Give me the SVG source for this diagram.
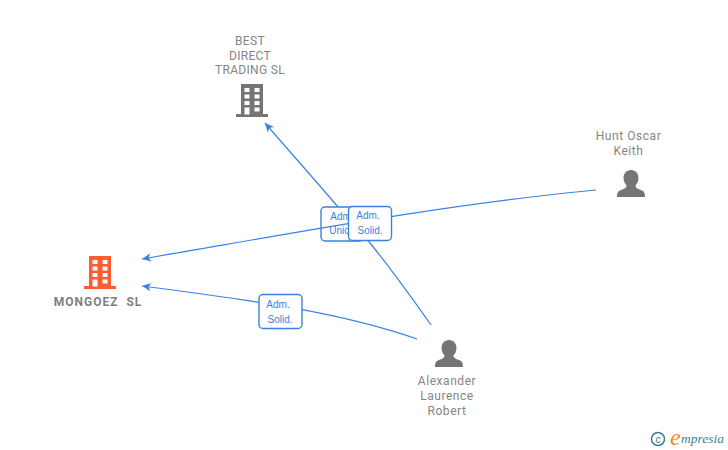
<svg xmlns="http://www.w3.org/2000/svg" width="728" height="450" viewBox="0 0 728 450">
<style>
text{font-family:Roboto,"Liberation Sans",Arial,sans-serif}
.n{font-size:12px;fill:#858585;text-anchor:middle;letter-spacing:.3px}
.m{letter-spacing:.55px}
.b{font-size:12px;fill:#7f7f7f;text-anchor:middle;font-weight:bold;letter-spacing:1px}
.l{font-size:10px;fill:#3b82e0;text-anchor:middle;font-family:"Liberation Sans",Arial,sans-serif}
.c{fill:none;stroke:#3b82e0;stroke-width:1.2}
.box{fill:#fff;stroke:#3b82e0;stroke-width:1.4}
.g{fill:#757575}
.o{fill:#ff5c33}
.w{fill:#fff}
</style>
<defs>
<marker id="a" markerUnits="userSpaceOnUse" markerWidth="10" markerHeight="10" refX="9" refY="5" orient="auto"><path d="M9 5L0 0.8L2.500 5L0 9.200Z" fill="#3b82e0"/></marker>
<g id="bld"><path d="M-11 -17H11V13H16V16H-16V13H-11Z"/><g class="w"><rect x="-7.500" y="-13" width="5" height="4"/><rect x="2.500" y="-13" width="5" height="4"/><rect x="-7.500" y="-6.500" width="5" height="4"/><rect x="2.500" y="-6.500" width="5" height="4"/><rect x="-7.500" y="0" width="5" height="4"/><rect x="2.500" y="0" width="5" height="4"/><rect x="-7.500" y="6.500" width="5" height="7"/><rect x="2.500" y="6.500" width="5" height="4"/></g></g>
<path id="per" d="M0 -14C5 -14 7.500 -10 7.500 -6C7.500 -2 5.500 0 4.500 1.500C4.500 4 7 5 10 6C13 7 14 9 14 13H-14C-14 9 -13 7 -10 6C-7 5 -4.500 4 -4.500 1.500C-5.500 0 -7.500 -2 -7.500 -6C-7.500 -10 -5 -14 0 -14Z"/>
</defs>
<g id="connectors-under">
<path class="c" d="M431 325C412 298 392 270 370 243C360 231 349 219 338 207C315 180 290 152 265 123" marker-end="url(#a)"/>
<path class="c" d="M417 339C340 312 250 300 142 286" marker-end="url(#a)"/>
</g>
<g id="edge-label-1"><rect class="box" x="321" y="207" width="43" height="34" rx="4"/><text class="l" x="342" y="220">Adm.</text><text class="l" x="342" y="234">Unico</text></g>
<g id="connectors">
<path class="c" d="M596 190C440 205 300 232 142 259" marker-end="url(#a)"/>
</g>
<g id="edge-labels">
<g><rect class="box" x="348.500" y="206.500" width="43" height="34" rx="4"/><text class="l" x="368" y="219">Adm.</text><text class="l" x="370" y="234">Solid.</text></g>
<g><rect class="box" x="259" y="294.500" width="43" height="34" rx="4"/><text class="l" x="278" y="308">Adm.</text><text class="l" x="280" y="323">Solid.</text></g>
</g>
<g id="best-direct"><text class="n" x="250" y="44.500">BEST</text><text class="n" x="250" y="59.500">DIRECT</text><text class="n" x="250" y="74">TRADING SL</text><use href="#bld" x="252" y="101" class="g"/></g>
<g id="mongoez"><use href="#bld" x="100" y="273" class="o"/><text class="b" x="98" y="306" xml:space="preserve">MONGOEZ  SL</text></g>
<g id="hunt"><text class="n m" x="628.500" y="140">Hunt Oscar</text><text class="n m" x="628.500" y="155">Keith</text><use href="#per" x="631" y="184" class="g"/></g>
<g id="alexander"><use href="#per" x="449" y="354" class="g"/><text class="n m" x="447" y="385">Alexander</text><text class="n m" x="447" y="400">Laurence</text><text class="n m" x="447" y="415">Robert</text></g>
<g id="logo"><circle cx="658" cy="439" r="6.500" fill="none" stroke="#3d7f96" stroke-width="1.500"/><text x="658" y="442.500" font-size="10" fill="#3d7f96" text-anchor="middle">c</text><text x="670" y="445" font-size="24" fill="#f08a1d" font-style="italic" style="font-family:'Liberation Serif',serif">e</text><text x="681" y="443" font-size="13.500" fill="#3d7f96" font-style="italic" style="font-family:'Liberation Serif',serif">mpresia</text></g>
</svg>
